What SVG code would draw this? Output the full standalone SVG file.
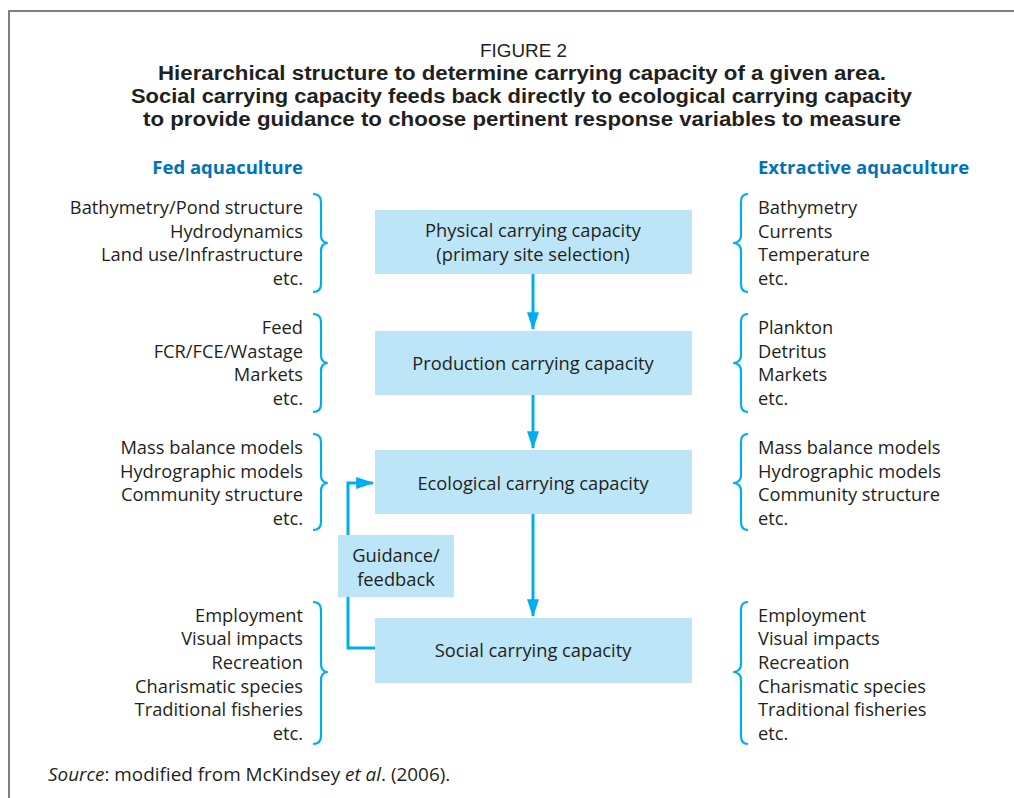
<svg xmlns="http://www.w3.org/2000/svg" width="1014" height="798" viewBox="0 0 1014 798">
<style>
.t{font-family:"Open Sans","Noto Sans","Liberation Sans",sans-serif;font-size:18.3px;fill:#231f20}
.r{text-anchor:end}
.c{text-anchor:middle}
.h{font-family:"Open Sans","Liberation Sans",sans-serif;font-size:18.5px;font-weight:bold;fill:#0072bc}
.ti{font-family:"Liberation Sans","Open Sans",sans-serif;fill:#231f20;text-anchor:middle}
.src{font-family:"Open Sans","Noto Sans","Liberation Sans",sans-serif;font-size:18.9px;fill:#231f20}
.box{fill:#bde5f8}
.br{fill:none;stroke:#00aeef;stroke-width:2.2;stroke-linejoin:round}
.ln{fill:none;stroke:#00aeef;stroke-width:3}
</style>
<defs>
<marker id="ah" markerWidth="6" markerHeight="6" refX="5.6" refY="3" orient="auto" markerUnits="strokeWidth" viewBox="0 0 6 6">
<path d="M0,1 L6,3 L0,5 Z" fill="#00aeef"/>
</marker>
</defs>
<rect width="1014" height="798" fill="#fff"/>
<path d="M9,798 V11 H1014" fill="none" stroke="#555" stroke-width="1.5"/>

<g id="title">
<text class="ti" x="523.5" y="57" font-size="19" textLength="87" lengthAdjust="spacingAndGlyphs">FIGURE 2</text>
<text class="ti" x="522" y="80" font-size="20" font-weight="bold" textLength="728" lengthAdjust="spacingAndGlyphs">Hierarchical structure to determine carrying capacity of a given area.</text>
<text class="ti" x="521.5" y="103" font-size="20" font-weight="bold" textLength="781" lengthAdjust="spacingAndGlyphs">Social carrying capacity feeds back directly to ecological carrying capacity</text>
<text class="ti" x="522" y="126" font-size="20" font-weight="bold" textLength="758" lengthAdjust="spacingAndGlyphs">to provide guidance to choose pertinent response variables to measure</text>
</g>

<g id="headings">
<text class="h r" x="303" y="174">Fed aquaculture</text>
<text class="h" x="758" y="174">Extractive aquaculture</text>
</g>

<g id="connectors">
<line class="ln" x1="533" y1="274" x2="533" y2="329" marker-end="url(#ah)"/>
<line class="ln" x1="533" y1="395" x2="533" y2="448" marker-end="url(#ah)"/>
<line class="ln" x1="533" y1="514" x2="533" y2="616" marker-end="url(#ah)"/>
<path class="ln" d="M375,648 H348 V483 H373" marker-end="url(#ah)"/>
</g>

<g id="physical">
<rect class="box" x="375" y="210" width="317" height="64"/>
<text class="t c" x="533" y="237">Physical carrying capacity</text>
<text class="t c" x="533" y="261">(primary site selection)</text>
</g>
<g id="production">
<rect class="box" x="375" y="331" width="317" height="64"/>
<text class="t c" x="533" y="370">Production carrying capacity</text>
</g>
<g id="ecological">
<rect class="box" x="375" y="450" width="317" height="64"/>
<text class="t c" x="533" y="490">Ecological carrying capacity</text>
</g>
<g id="social">
<rect class="box" x="375" y="618" width="317" height="65"/>
<text class="t c" x="533" y="657">Social carrying capacity</text>
</g>
<g id="guidance">
<rect class="box" x="338" y="535" width="116" height="62"/>
<text class="t c" x="396" y="562">Guidance/</text>
<text class="t c" x="396" y="586">feedback</text>
</g>

<g id="fed-physical">
<path class="br" d="M313,194 Q321,194 321,202 V235 Q321,242 327,243 Q321,244 321,251 V284 Q321,292 313,292"/>
<text class="t r" x="303" y="214">Bathymetry/Pond structure</text>
<text class="t r" x="303" y="238">Hydrodynamics</text>
<text class="t r" x="303" y="261">Land use/Infrastructure</text>
<text class="t r" x="303" y="285">etc.</text>
</g>
<g id="fed-production">
<path class="br" d="M313,314 Q321,314 321,322 V355 Q321,362 327,363 Q321,364 321,371 V404 Q321,412 313,412"/>
<text class="t r" x="303" y="334">Feed</text>
<text class="t r" x="303" y="358">FCR/FCE/Wastage</text>
<text class="t r" x="303" y="381">Markets</text>
<text class="t r" x="303" y="405">etc.</text>
</g>
<g id="fed-ecological">
<path class="br" d="M313,434 Q321,434 321,442 V475 Q321,482 327,483 Q321,484 321,491 V522 Q321,530 313,530"/>
<text class="t r" x="303" y="454">Mass balance models</text>
<text class="t r" x="303" y="478">Hydrographic models</text>
<text class="t r" x="303" y="501">Community structure</text>
<text class="t r" x="303" y="525">etc.</text>
</g>
<g id="fed-social">
<path class="br" d="M313,602 Q321,602 321,610 V664 Q321,671 327,672 Q321,673 321,680 V736 Q321,744 313,744"/>
<text class="t r" x="303" y="622">Employment</text>
<text class="t r" x="303" y="645">Visual impacts</text>
<text class="t r" x="303" y="669">Recreation</text>
<text class="t r" x="303" y="693">Charismatic species</text>
<text class="t r" x="303" y="716">Traditional fisheries</text>
<text class="t r" x="303" y="740">etc.</text>
</g>

<g id="ext-physical">
<path class="br" d="M748,194 Q741,194 741,202 V235 Q741,242 734,243 Q741,244 741,251 V284 Q741,292 748,292"/>
<text class="t" x="758" y="214">Bathymetry</text>
<text class="t" x="758" y="238">Currents</text>
<text class="t" x="758" y="261">Temperature</text>
<text class="t" x="758" y="285">etc.</text>
</g>
<g id="ext-production">
<path class="br" d="M748,314 Q741,314 741,322 V355 Q741,362 734,363 Q741,364 741,371 V404 Q741,412 748,412"/>
<text class="t" x="758" y="334">Plankton</text>
<text class="t" x="758" y="358">Detritus</text>
<text class="t" x="758" y="381">Markets</text>
<text class="t" x="758" y="405">etc.</text>
</g>
<g id="ext-ecological">
<path class="br" d="M748,434 Q741,434 741,442 V475 Q741,482 734,483 Q741,484 741,491 V522 Q741,530 748,530"/>
<text class="t" x="758" y="454">Mass balance models</text>
<text class="t" x="758" y="478">Hydrographic models</text>
<text class="t" x="758" y="501">Community structure</text>
<text class="t" x="758" y="525">etc.</text>
</g>
<g id="ext-social">
<path class="br" d="M748,602 Q741,602 741,610 V664 Q741,671 734,672 Q741,673 741,680 V736 Q741,744 748,744"/>
<text class="t" x="758" y="622">Employment</text>
<text class="t" x="758" y="645">Visual impacts</text>
<text class="t" x="758" y="669">Recreation</text>
<text class="t" x="758" y="693">Charismatic species</text>
<text class="t" x="758" y="716">Traditional fisheries</text>
<text class="t" x="758" y="740">etc.</text>
</g>

<g id="source">
<text class="src" x="48" y="781"><tspan font-style="italic">Source</tspan>: modified from McKindsey <tspan font-style="italic">et al</tspan>. (2006).</text>
</g>
</svg>
